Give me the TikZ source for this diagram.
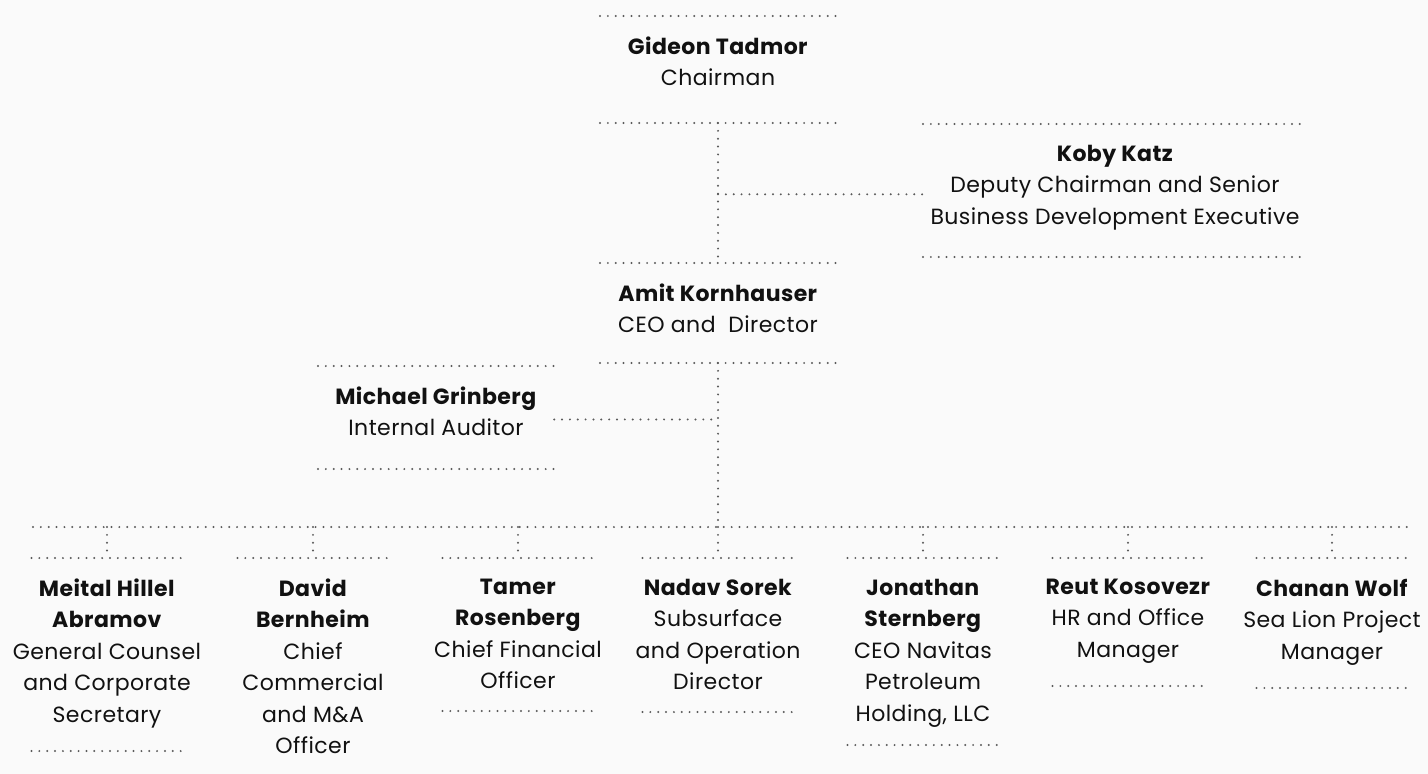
\documentclass[tikz,border=0pt]{standalone}
\usepackage{fontspec}
\setmainfont{Poppins}[LetterSpace=2]
\definecolor{dotgrey}{HTML}{5A5A5A}
\definecolor{inkblack}{HTML}{111111}
\definecolor{paper}{HTML}{FAFAFA}

\begin{document}
\begin{tikzpicture}[
  x=1pt, y=-1pt,
  font=\fontsize{22}{31.5}\selectfont,
  text=inkblack,
  dotline/.style={draw=dotgrey, line width=2.2pt, line cap=round, dash pattern=on 0pt off 7.85pt},
  toprule/.style={append after command={([xshift=-#1/2]\tikzlastnode.north) edge[dotline] ([xshift=#1/2]\tikzlastnode.north)}},
  baserule/.style 2 args={append after command={([xshift=-#1/2,yshift=-#2]\tikzlastnode.north) edge[dotline] ([xshift=#1/2,yshift=-#2]\tikzlastnode.north)}},
  card/.style={align=center, anchor=north, inner xsep=0pt, inner ysep=20.6pt},
  board/.style={card, minimum width=236pt, toprule=236pt, baserule={236pt}{#1}},
  deputy/.style={card, minimum width=384pt, toprule=384pt, baserule={384pt}{#1}},
  staff/.style={card, toprule=151pt, baserule={151pt}{#1}}
]
\useasboundingbox (0,0) rectangle (1428,774);
\fill[paper] (0,0) rectangle (1428,774);

\node[board=107pt] (gt) at (718,16) {\textbf{Gideon Tadmor}\\Chairman};
\node[deputy=133pt] (kk) at (1115,124) {\textbf{Koby Katz}\\Deputy Chairman and Senior\\Business Development Executive};
\node[board=100pt] (ak) at (718,263) {\textbf{Amit Kornhauser}\\CEO and\ \ Director};
\node[board=103pt] (mg) at (436,366) {\textbf{Michael Grinberg}\\Internal Auditor};

\node[staff=193pt] (mh) at (107,558) {\textbf{Meital Hillel}\\\textbf{Abramov}\\General Counsel\\and Corporate\\Secretary};
\node[card, toprule=151pt] (db) at (313,558) {\textbf{David}\\\textbf{Bernheim}\\Chief\\Commercial\\and M\&A\\Officer};
\node[staff=153pt] (tr) at (518,558) {\textbf{Tamer}\\\textbf{Rosenberg}\\Chief Financial\\Officer};
\node[staff=154pt] (ns) at (718,558) {\textbf{Nadav Sorek}\\Subsurface\\and Operation\\Director};
\node[staff=187pt] (js) at (923,558) {\textbf{Jonathan}\\\textbf{Sternberg}\\CEO Navitas\\Petroleum\\Holding, LLC};
\node[staff=128pt] (rk) at (1128,558) {\textbf{Reut Kosovezr}\\HR and Office\\Manager};
\node[staff=130pt] (cw) at (1332,558) {\textbf{Chanan Wolf}\\Sea Lion Project\\Manager};

\coordinate (kj) at ([yshift=-7pt]kk.west);
\coordinate (mj) at ([yshift=-8pt]mg.east);
\coordinate (busL) at (33,527);
\coordinate (busR) at (1408,527);

\draw[dotline] ([yshift=-107pt]gt.north) -- (ak.north);
\draw[dotline] (kj -| gt.north) -- (kj);
\draw[dotline] (mj) -- (mj -| ak.north);
\draw[dotline] ([yshift=-100pt]ak.north) -- (ak.north |- busL);
\draw[dotline] (busL) -- (busR);
\draw[dotline] (mh.north |- busL) -- (mh.north);
\draw[dotline] (db.north |- busL) -- (db.north);
\draw[dotline] (tr.north |- busL) -- (tr.north);
\draw[dotline] (ns.north |- busL) -- (ns.north);
\draw[dotline] (js.north |- busL) -- (js.north);
\draw[dotline] (rk.north |- busL) -- (rk.north);
\draw[dotline] (cw.north |- busL) -- (cw.north);
\end{tikzpicture}
\end{document}
